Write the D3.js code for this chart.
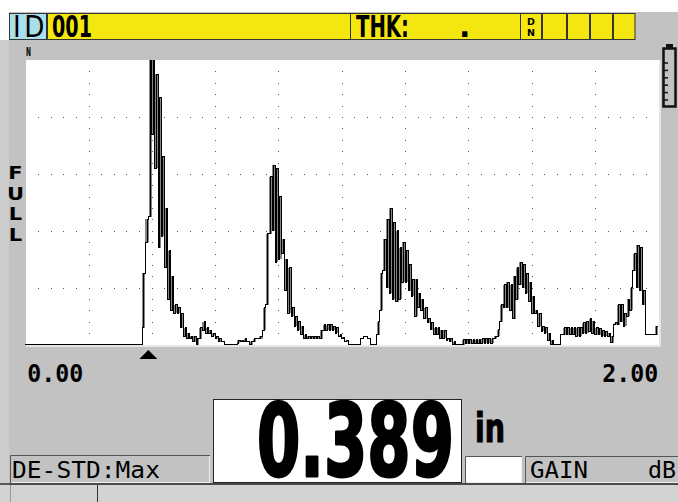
<!DOCTYPE html>
<html>
<head>
<meta charset="utf-8" />
<style>
body {
	margin: 0;
	background: #fff;
}
svg {
	display: block;
}
.bold {
	font-family: "DejaVu Sans", sans-serif;
	font-weight: bold;
}
.thin {
	font-family: "DejaVu Sans", sans-serif;
}
.mono {
	font-family: "DejaVu Sans Mono", monospace;
}
.monobold {
	font-family: "DejaVu Sans Mono", monospace;
	font-weight: bold;
}
</style>
</head>
<body>
<script src="https://d3js.org/d3.v7.min.js"></script>
<script>
// A-scan samples, amplitude in % of full screen, one sample every 0.01 in from 0.37 in
var sampleStart = 0.37,
    sampleStep = 0.01;

// peak-hold envelope (upper level of each sample)
var peakHold = [25, 44, 100, 100, 95, 87, 66, 48, 33, 24,
    14, 13, 11, 6, 4, 3, 3, 2, 6, 8,
    6, 5, 4, 3, 2, 1, 0, 0, 0, 0,
    1.5, 1.5, 2, 1, 1, 2, 2, 3, 13, 39,
    59, 63, 62, 52, 37, 30, 27, 13, 10, 8,
    6.5, 3.5, 3, 3, 3, 3, 5, 7, 7, 7,
    6.5, 6, 3.5, 2.5, 1.3, 0, 0, 0, 0, 2,
    3, 2, 0, 0, 8, 25, 37, 44, 48, 43,
    40, 34, 36, 33, 28, 23, 23, 18, 16, 13,
    9, 7.7, 6, 6, 5, 5, 2.3, 2, 1, 0,
    0, 1.7, 1.7, 1.7, 1.7, 1.7, 1.7, 2, 2, 2,
    2, 3, 5.3, 14, 21, 22, 21, 24, 27, 29,
    28, 25, 22, 17, 12, 11, 6.4, 6, 4, 1.5,
    0, 0, 3.5, 6, 6, 6, 6, 6, 6, 7.6,
    8, 9, 8.2, 6, 5.8, 5, 4.5, 4, 3, 7.6,
    14, 14, 11, 16, 20, 32, 35, 34, 19, 3.5,
    3.5, 3.5, 6.4];

// live trace (lower level of each sample)
var liveTrace = [6, 36, 45, 74, 62, 34, 38, 27, 16, 12,
    11, 11, 6, 3, 2, 2, 1, 0, 2, 5,
    4, 4, 3, 2, 1, 1, 0, 0, 0, 0,
    0.5, 1, 1, 1, 0, 1, 2, 2, 5, 14,
    39, 40, 29, 30, 32, 19, 11, 10, 6.5, 5,
    3.5, 2, 2, 2, 2, 2, 2, 5, 5, 5,
    5, 4, 3, 2, 1, 0, 0, 0, 0, 2,
    3, 2, 0, 0, 3.5, 12, 26, 20, 18, 16,
    15, 16, 22, 22, 19, 17, 10, 13, 12, 9,
    7.7, 5.3, 3.5, 3.5, 2.3, 2.3, 1.5, 1, 0, 0,
    0, 0, 0.3, 0.3, 0.3, 0.3, 0.3, 0.5, 0.5, 0.5,
    0.5, 2, 3, 8, 13, 13, 12, 9, 16, 21,
    20, 18, 15, 11, 11, 6.4, 4.7, 4, 1.5, 0,
    0, 0, 3.5, 3.5, 3.5, 3.5, 3.5, 3, 3, 4,
    4, 4.5, 4, 3.5, 3.5, 3, 3, 3, 0.7, 7,
    7, 8, 6.4, 10, 12, 26, 20, 19, 14, 3.5,
    3.5, 3.5, 3.5];

var rangeIn = [0, 2.00],
    ampRange = [0, 100],
    rangeLabels = ["0.00", "2.00"];

var reading = 0.389,
    readingText = "0.389",
    unitText = "in";

var idLabel = "ID",
    idValue = "001",
    thkLabel = "THK:",
    thkValue = ".",
    modeText = "DE-STD:Max",
    gainText = "GAIN",
    gainUnit = "dB",
    sideLabel = ["F", "U", "L", "L"];

var W = 678, H = 502;
var bg = "#c2c2c2", yellow = "#f4e70f", blue = "#a9dfea";

var svg = d3.select("body").append("svg")
	.attr("width", W)
	.attr("height", H);

// text squeezed to a given width with a real scale, so its box stays true
function label(cls, str, x0, y0, size, width) {
	var t = svg.append("text").attr("class", cls).attr("font-size", size).text(str);
	var sx = width ? width / t.node().getComputedTextLength() : 1;
	t.attr("transform", "translate(" + x0 + "," + y0 + ") scale(" + sx + ",1)");
	return t;
}

// screen
svg.append("rect").attr("width", W).attr("height", H).attr("fill", "#fff");
svg.append("rect").attr("x", 9).attr("y", 12).attr("width", W - 9).attr("height", H - 12).attr("fill", bg);
svg.append("rect").attr("x", 0).attr("y", 40).attr("width", 9).attr("height", 443).attr("fill", "#cdcdcd");

// header
var header = svg.append("g").attr("stroke", "#333").attr("stroke-width", 1);
header.append("rect").attr("x", 9.5).attr("y", 13.5).attr("width", 37).attr("height", 26).attr("fill", blue);
header.append("rect").attr("x", 47.5).attr("y", 13.5).attr("width", 303).attr("height", 26).attr("fill", yellow);
header.append("rect").attr("x", 350.5).attr("y", 13.5).attr("width", 170).attr("height", 26).attr("fill", yellow);
var smallBoxes = [520.5, 542.5, 567.5, 590.5, 613.5, 636];
for (i = 0; i < smallBoxes.length - 1; i++) {
	header.append("rect")
		.attr("x", smallBoxes[i])
		.attr("y", 13.5)
		.attr("width", smallBoxes[i + 1] - smallBoxes[i] - 1)
		.attr("height", 26)
		.attr("fill", yellow);
}

label("thin", idLabel, 13, 37, 30, 28).attr("letter-spacing", 4);
label("bold", idValue, 52, 37, 30, 40);
label("bold", thkLabel, 356, 37, 30, 53);
label("bold", thkValue, 459, 37, 30);
svg.append("text").attr("class", "bold").attr("x", 531).attr("y", 25)
	.attr("font-size", 9.5).attr("text-anchor", "middle")
	.text("D");
svg.append("text").attr("class", "bold").attr("x", 531).attr("y", 36)
	.attr("font-size", 9.5).attr("text-anchor", "middle")
	.text("N");

// battery
var battery = svg.append("g");
battery.append("rect").attr("x", 666).attr("y", 44).attr("width", 7).attr("height", 5).attr("fill", "#111");
battery.append("rect").attr("x", 663.5).attr("y", 48.5).attr("width", 12).attr("height", 58)
	.attr("fill", "none").attr("stroke", "#111").attr("stroke-width", 2.5);
battery.selectAll("line.tick").data(d3.range(6)).enter().append("line")
	.attr("x1", 664).attr("x2", 668)
	.attr("y1", function(d) { return 63 + d * 7.4; })
	.attr("y2", function(d) { return 63 + d * 7.4; })
	.attr("stroke", "#111").attr("stroke-width", 1.5);

// plot
var x = d3.scaleLinear().domain(rangeIn).range([25.2, 658.2]);
var y = d3.scaleLinear().domain(ampRange).range([344.6, 60.1]);

svg.append("rect").attr("x", 26).attr("y", 60).attr("width", 633).attr("height", 285).attr("fill", "#fff");
svg.append("path").attr("d", "M26,346H660V60").attr("fill", "none").attr("stroke", "#e6e6e6").attr("stroke-width", 2);

label("bold", "N", 26, 56, 13, 5);

// dotted grid: 10 x 5 divisions, 5 dots per division
var grid = svg.append("g").attr("fill", "#555");
d3.range(20, 100, 20).forEach(function(a) {
	d3.range(0.04, 2, 0.04).forEach(function(t) {
		grid.append("rect").attr("x", Math.round(x(t))).attr("y", Math.round(y(a))).attr("width", 1).attr("height", 1);
	});
});
d3.range(0.2, 1.99, 0.2).forEach(function(t) {
	d3.range(4, 100, 4).forEach(function(a) {
		grid.append("rect").attr("x", Math.round(x(t))).attr("y", Math.round(y(a))).attr("width", 1).attr("height", 1);
	});
});

// waveform: gray peak-hold fill, black trace
var samples = peakHold.map(function(p, k) {
	return { t: sampleStart + k * sampleStep, hi: p, lo: liveTrace[k] };
});

svg.append("g").attr("fill", "#858585").attr("shape-rendering", "crispEdges")
	.selectAll("rect").data(samples.filter(function(d) { return d.hi > d.lo; }))
	.enter().append("rect")
	.attr("x", function(d) { return x(d.t); })
	.attr("width", function(d) { return x(d.t + sampleStep) - x(d.t); })
	.attr("y", function(d) { return y(d.hi); })
	.attr("height", function(d) { return y(d.lo) - y(d.hi); });

var tracePath = d3.path();
tracePath.moveTo(x(rangeIn[0]), y(0));
tracePath.lineTo(x(sampleStart), y(0));
samples.forEach(function(d) {
	var xa = x(d.t), xm = x(d.t + sampleStep / 2), xb = x(d.t + sampleStep);
	tracePath.lineTo(xa, y(d.lo));
	tracePath.lineTo(xm, y(d.lo));
	tracePath.lineTo(xm, y(d.hi));
	tracePath.lineTo(xb, y(d.hi));
});
svg.append("path").attr("d", tracePath.toString())
	.attr("fill", "none").attr("stroke", "#000").attr("stroke-width", 1)
	.attr("shape-rendering", "crispEdges");

// gate marker at reading
var mx = x(reading);
svg.append("path").attr("d", "M" + mx + ",350L" + (mx + 9) + ",359L" + (mx - 9) + ",359Z").attr("fill", "#000");

// range labels
label("monobold", rangeLabels[0], x(rangeIn[0]) + 2, 382, 25, 56);
label("monobold", rangeLabels[1], x(rangeIn[1]) - 56, 382, 25, 56);

// side label, one letter per line
sideLabel.forEach(function(c, i) {
	svg.append("text").attr("class", "bold").attr("font-size", 17.5)
		.attr("text-anchor", "middle")
		.attr("transform", "translate(15.5," + (179 + i * 20.7) + ") scale(1.2,1)")
		.text(c);
});

// thickness reading
svg.append("rect").attr("x", 213.5).attr("y", 399.5).attr("width", 248).attr("height", 83)
	.attr("fill", "#fff").attr("stroke", "#222");
label("bold", readingText, 257, 476, 99, 197)
	.attr("stroke", "#000").attr("stroke-width", 3).attr("stroke-linejoin", "round");
label("bold", unitText, 475, 442, 40, 30)
	.attr("stroke", "#000").attr("stroke-width", 1.2);

// status boxes
function insetBox(x0, y0, w, h, fill) {
	svg.append("rect").attr("x", x0).attr("y", y0).attr("width", w).attr("height", h).attr("fill", fill);
	svg.append("path").attr("d", "M" + (x0 + 0.5) + "," + (y0 + h) + "V" + (y0 + 0.5) + "H" + (x0 + w))
		.attr("fill", "none").attr("stroke", "#555");
	svg.append("path").attr("d", "M" + (x0 + 1) + "," + (y0 + h - 0.5) + "H" + (x0 + w - 0.5) + "V" + (y0 + 1))
		.attr("fill", "none").attr("stroke", "#eee");
}
insetBox(10, 455, 200, 28, bg);
insetBox(465, 456, 57, 27, "#fff");
insetBox(525, 456, 160, 27, bg);

label("mono", modeText, 12, 478, 23, 148);
label("mono", gainText, 530, 478, 23, 58);
label("mono", gainUnit, 648, 478, 23, 28);

// bottom bar
svg.append("rect").attr("x", 0).attr("y", 485).attr("width", W).attr("height", 17).attr("fill", "#d3d3d3");
svg.append("line").attr("x1", 0).attr("x2", W).attr("y1", 484).attr("y2", 484).attr("stroke", "#222").attr("stroke-width", 1.5);
svg.append("line").attr("x1", 97.5).attr("x2", 97.5).attr("y1", 485).attr("y2", 502).attr("stroke", "#333");
svg.append("line").attr("x1", 10.5).attr("x2", 10.5).attr("y1", 485).attr("y2", 502).attr("stroke", "#999");

</script>
</body>
</html>
